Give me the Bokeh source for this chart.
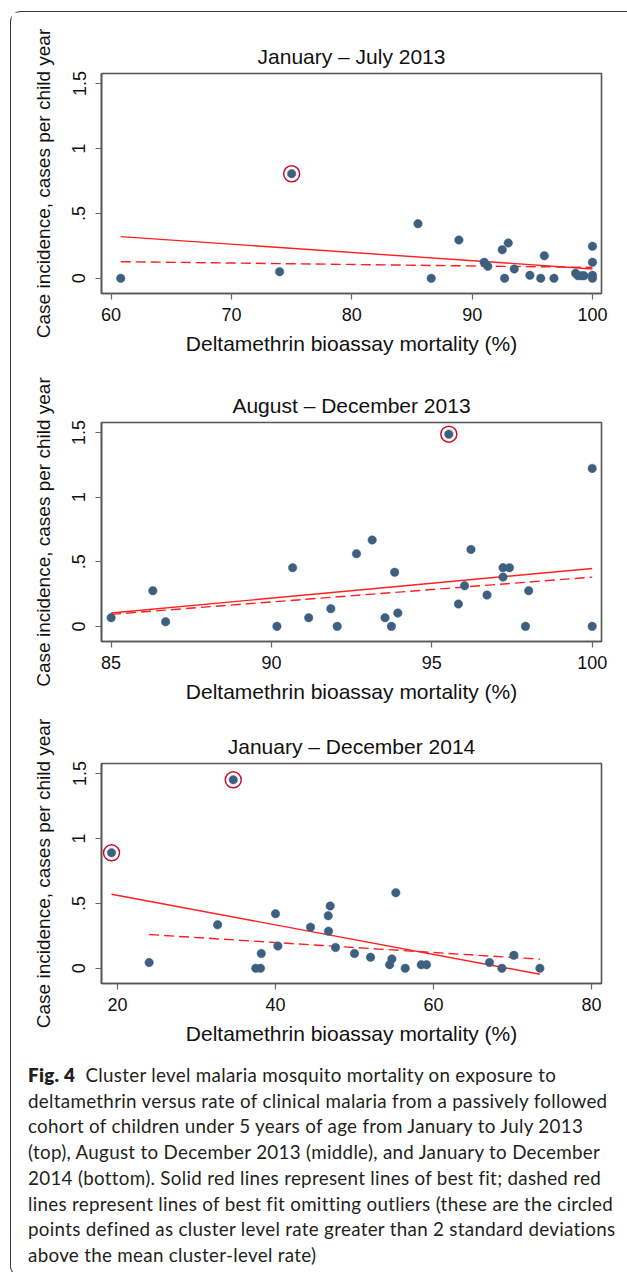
from bokeh.plotting import figure
from bokeh.layouts import column
from bokeh.models import Div, FixedTicker
from bokeh.embed import file_html
from bokeh.resources import INLINE

# ---------------- data ----------------
titles = ["January \u2013 July 2013", "August \u2013 December 2013", "January \u2013 December 2014"]
x_label = "Deltamethrin bioassay mortality (%)"
y_label = "Case incidence, cases per child year"
y_ticks = [0, 0.5, 1, 1.5]
y_tick_labels = ["0", ".5", "1", "1.5"]

# Panel 1: January - July 2013
x1_ticks = [60, 70, 80, 90, 100]
x1 = [60.8, 74.0, 75.0, 85.5, 86.6, 88.9, 91.0, 91.3, 92.5, 92.7, 93.0, 93.5, 94.8, 95.7, 96.0, 96.8,
      98.6, 98.8, 99.1, 99.3, 100, 100, 100, 100]
y1 = [0, 0.051, 0.805, 0.42, 0, 0.295, 0.123, 0.092, 0.22, 0, 0.272, 0.072, 0.023, 0, 0.174, 0,
      0.038, 0.02, 0.02, 0.02, 0.246, 0.123, 0.023, 0]
out1_x = [75.0]
out1_y = [0.805]
fit1_x = [60.8, 100]
fit1_y = [0.321, 0.072]
fit1_noout_y = [0.128, 0.084]

# Panel 2: August - December 2013
x2_ticks = [85, 90, 95, 100]
x2 = [85.0, 86.3, 86.7, 90.17, 90.66, 91.16, 91.85, 92.05, 92.65, 93.14, 93.54, 93.74, 93.84, 93.94,
      95.53, 95.83, 96.02, 96.22, 96.72, 97.22, 97.22, 97.42, 97.92, 98.02, 100, 100]
y2 = [0.067, 0.276, 0.036, 0, 0.454, 0.067, 0.137, 0, 0.562, 0.668, 0.067, 0, 0.418, 0.103,
      1.487, 0.173, 0.314, 0.595, 0.242, 0.454, 0.381, 0.454, 0, 0.276, 1.222, 0]
out2_x = [95.53]
out2_y = [1.487]
fit2_x = [85.0, 100]
fit2_y = [0.103, 0.448]
fit2_noout_y = [0.093, 0.381]

# Panel 3: January - December 2014
x3_ticks = [20, 40, 60, 80]
x3 = [19.24, 24.0, 32.67, 34.65, 37.5, 38.1, 38.2, 40.0, 40.3, 44.43, 46.71, 46.67, 46.92, 47.6,
      50.0, 52.03, 54.45, 54.73, 55.23, 56.42, 58.45, 59.12, 67.09, 68.66, 70.18, 73.47]
y3 = [0.889, 0.044, 0.335, 1.451, 0, 0, 0.114, 0.42, 0.172, 0.317, 0.286, 0.405, 0.48, 0.16,
      0.114, 0.085, 0.028, 0.072, 0.582, 0, 0.028, 0.028, 0.044, 0, 0.1, 0]
out3_x = [19.24, 34.65]
out3_y = [0.889, 1.451]
fit3_x = [19.24, 73.47]
fit3_y = [0.570, -0.046]
fit3_noout_x = [24.0, 73.47]
fit3_noout_y = [0.260, 0.070]

caption_lines = [
    '<b style="font-weight:800;">Fig.\u00a04</b>\u00a0\u00a0Cluster level malaria mosquito mortality on exposure to',
    "deltamethrin versus rate of clinical malaria from a passively followed",
    "cohort of children under 5 years of age from January to July 2013",
    "(top), August to December 2013 (middle), and January to December",
    "2014 (bottom). Solid red lines represent lines of best fit; dashed red",
    "lines represent lines of best fit omitting outliers (these are the circled",
    "points defined as cluster level rate greater than 2 standard deviations",
    "above the mean cluster-level rate)",
]

# ---------------- styling ----------------
FONT = "Liberation Sans"
DOT = "#3d6080"
RING = "#c8102e"
FIT = "#ff1f1f"
FRAME = "#555555"
Y_RANGE = (-0.117, 1.577)


def panel(title, xs, ys, ox, oy, fx, fy, fnx, fny, xr, xt, height, top, bottom):
    p = figure(width=608, height=height, x_range=xr, y_range=Y_RANGE,
               output_backend="svg", toolbar_location=None, tools="",
               min_border_left=90, min_border_right=18,
               min_border_top=top, min_border_bottom=bottom,
               title=title)
    p.title.align = "center"
    p.title.text_font = FONT
    p.title.text_font_size = "21px"
    p.title.text_font_style = "normal"
    p.title.text_color = "#111111"
    p.title.standoff = 11
    p.xgrid.visible = False
    p.ygrid.visible = False
    p.outline_line_color = FRAME
    p.outline_line_width = 1.6
    p.background_fill_color = "white"
    p.border_fill_color = "white"

    p.xaxis.ticker = FixedTicker(ticks=xt)
    p.yaxis.ticker = FixedTicker(ticks=y_ticks)
    p.yaxis.major_label_overrides = {t: l for t, l in zip(y_ticks, y_tick_labels)}
    p.yaxis.major_label_orientation = "vertical"
    for ax in (p.xaxis[0], p.yaxis[0]):
        ax.axis_line_color = FRAME
        ax.axis_line_width = 1.6
        ax.major_tick_line_color = "#666666"
        ax.major_tick_line_width = 1.2
        ax.major_tick_out = 6
        ax.major_tick_in = 0
        ax.minor_tick_line_color = None
        ax.major_label_text_font = FONT
        ax.major_label_text_font_size = "18px"
        ax.major_label_text_color = "#111111"
        ax.axis_label_text_font = FONT
        ax.axis_label_text_font_style = "normal"
        ax.axis_label_text_color = "#111111"
    p.xaxis.axis_label = x_label
    p.xaxis.axis_label_text_font_size = "21px"
    p.xaxis.major_label_standoff = 8
    p.xaxis.axis_label_standoff = 8
    p.yaxis.axis_label = y_label
    p.yaxis.axis_label_text_font_size = "19px"
    p.yaxis.major_label_standoff = 10
    p.yaxis.axis_label_standoff = 16

    p.line(fx, fy, line_color=FIT, line_width=1.4)
    p.line(fnx, fny, line_color=FIT, line_width=1.4, line_dash="10 5")
    p.scatter(xs, ys, size=8.5, fill_color=DOT, line_color=DOT, line_width=0.5)
    p.scatter(ox, oy, size=16, fill_color=None, line_color=RING, line_width=1.5)
    return p


p1 = panel(titles[0], x1, y1, out1_x, out1_y, fit1_x, fit1_y, fit1_x, fit1_noout_y,
           (59.2, 100.75), x1_ticks, 358, 61, 77)
p2 = panel(titles[1], x2, y2, out2_x, out2_y, fit2_x, fit2_y, fit2_x, fit2_noout_y,
           (84.70, 100.29), x2_ticks, 342, 52, 71)
p3 = panel(titles[2], x3, y3, out3_x, out3_y, fit3_x, fit3_y, fit3_noout_x, fit3_noout_y,
           (17.97, 81.27), x3_ticks, 340, 51, 69)

cap_html = ('<div style="padding:5px 0 0 12px; font-family:Lato; font-weight:400; font-size:18.8px; '
            'letter-spacing:0.3px; line-height:25.7px; color:#231f20;">' +
            "".join('<div style="white-space:nowrap;">%s</div>' % l for l in caption_lines) +
            '</div>')
cap = Div(text=cap_html, width=608, height=214)

page = column(p1, p2, p3, cap, styles={
    "border-left": "1.4px solid #3a3a3a",
    "border-top": "1.4px solid #3a3a3a",
    "border-bottom": "1.4px solid #3a3a3a",
    "border-top-left-radius": "11px",
    "border-bottom-left-radius": "11px",
    "margin-left": "10px",
    "margin-top": "11px",
})

open("out.html", "w").write(file_html(page, INLINE))
